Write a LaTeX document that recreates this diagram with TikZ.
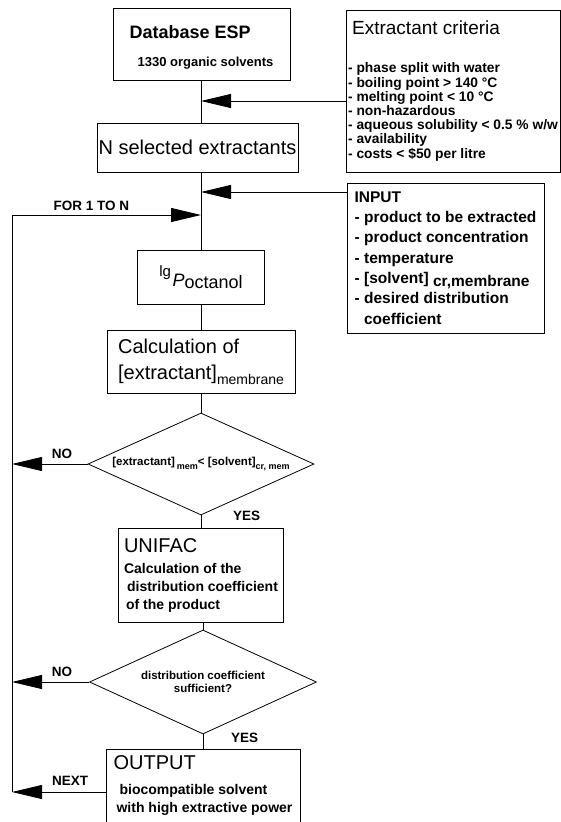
\documentclass[tikz,border=0pt]{standalone}
\usepackage{fontspec}
\setmainfont{Liberation Sans}
\usetikzlibrary{arrows.meta}
\usetikzlibrary{shapes.geometric}

\newcommand{\bigsize}{\fontsize{20}{26}\selectfont}
\newcommand{\headsize}{\fontsize{19}{22}\selectfont}
\newcommand{\listsize}{\bfseries\fontsize{14}{18}\selectfont}
\newcommand{\critsize}{\bfseries\fontsize{13.8}{14.2}\selectfont}
\newcommand{\inputsize}{\bfseries\fontsize{15.5}{20.3}\selectfont}
\newcommand{\smallsize}{\bfseries\fontsize{11.5}{13}\selectfont}
\newcommand{\subsize}{\fontsize{9}{9}\selectfont}
\newcommand{\lblsize}{\bfseries\fontsize{13.5}{15}\selectfont}

\tikzset{
  box/.style={draw, line width=0.8pt, inner sep=0pt},
  decision/.style={draw, diamond, line width=0.8pt, aspect=2.2, inner sep=0pt},
  flow/.style={line width=0.8pt},
  arr/.style={flow, -{Triangle[length=30pt,width=14pt]}},
  lbl/.style={font=\lblsize, inner sep=1pt},
}

\begin{document}
\begin{tikzpicture}[x=1pt,y=-1pt]
\useasboundingbox (0,0) rectangle (561,822);

% boxes of the main column
\node[box, minimum width=177pt, minimum height=72pt, align=left] (db) at (201.5,44)
  {\rule{0pt}{19.5pt}{\bfseries\fontsize{18}{22}\selectfont Database ESP}\\[16pt]
   \hspace*{8pt}{\bfseries\fontsize{13}{15}\selectfont 1330 organic solvents}};
\node[box, minimum width=201pt, minimum height=49pt, font=\bigsize] (nsel) at (197.5,147.5)
  {N selected extractants};
\node[box, minimum width=127pt, minimum height=54pt] (lgp) at (201,277)
  {\raisebox{10pt}{\fontsize{15}{15}\selectfont lg}\,{\fontsize{18}{18}\selectfont\itshape P}\raisebox{-2pt}{\fontsize{18}{18}\selectfont octanol}};
\node[box, minimum width=188pt, minimum height=63pt, align=left, font=\bigsize] (calc) at (201,361.5)
  {Calculation of\\
   {[}extractant{]}\raisebox{-5pt}{\fontsize{14}{14}\selectfont membrane}};
\node[decision, minimum width=226pt, minimum height=102pt, font=\smallsize] (dia1) at (201,464)
  {{[}extractant{]}\,\raisebox{-4pt}{\subsize mem}< {[}solvent{]}\raisebox{-4pt}{\subsize cr, mem}};
\node[box, minimum width=165pt, minimum height=94pt, align=left, font=\listsize] (unifac) at (201,575)
  {{\mdseries\fontsize{20}{24}\selectfont UNIFAC}\\[3pt]
   Calculation of the\\
   \hspace*{3pt}distribution coefficient\\
   \hspace*{2pt}of the product};
\node[decision, minimum width=227pt, minimum height=104pt, align=center, font=\smallsize] (dia2) at (203,682)
  {distribution coefficient\\ sufficient?};
\node[box, minimum width=194pt, anchor=north, inner sep=6pt, text depth=12pt, align=left, font=\listsize] (out) at (203,749)
  {{\mdseries\fontsize{20}{24}\selectfont OUTPUT}\\[7pt]
   \hspace*{6pt}biocompatible solvent\\
   \hspace*{3pt}with high extractive power};

% side boxes
\node[box, minimum width=214pt, minimum height=162pt, align=left, font=\critsize] (crit) at (453,91)
  {\hspace*{4pt}{\headsize\mdseries Extractant criteria}\\[24pt]
   - phase split with water\\
   - boiling point > 140 °C\\
   - melting point < 10 °C\\
   - non-hazardous\\
   - aqueous solubility < 0.5 \% w/w\\
   - availability\\
   - costs < \$50 per litre};
\node[box, minimum width=197pt, minimum height=150pt, align=left, font=\inputsize] (input) at (445.5,258)
  {INPUT\\
   - product to be extracted\\
   - product concentration\\
   - temperature\\
   - {[}solvent{]} \raisebox{-3pt}{cr,membrane}\\
   - desired distribution\\
   \hphantom{- }coefficient};

% junctions and loop
\coordinate (critin) at (201,101);
\coordinate (inputin) at (201,192);
\coordinate (loopin) at (201,215);
\coordinate (loopx) at (12,215);
\coordinate (loopend) at (12,792);

% main column
\draw[flow] (db.south) -- (db.south |- nsel.north);
\draw[flow] (lgp.north |- nsel.south) -- (lgp.north);
\draw[flow] (lgp.south) -- (calc.north);
\draw[flow] (calc.south) -- (dia1.north);
\draw[flow] (dia1.south) -- (unifac.north);
\draw[flow] (dia2.north |- unifac.south) -- (dia2.north);
\draw[flow] (dia2.south) -- (out.north);

% inputs
\draw[arr] (crit.west |- critin) -- (critin);
\draw[arr] (input.west |- inputin) -- (inputin);
\draw[arr] (loopx) -- node[lbl, pos=0.42, above=3pt] (for) {FOR 1 TO N} (loopin);

% back to the loop
\draw[flow] (loopx) -- (loopend);
\draw[arr] (dia1.west) -- node[lbl, pos=0.34, above=4pt] (no1) {NO} (dia1.west -| loopx);
\draw[arr] (dia2.west) -- node[lbl, pos=0.35, above=4pt] (no2) {NO} (dia2.west -| loopx);
\draw[arr] (out.west |- loopend) -- node[lbl, pos=0.38, above=5pt] (next) {NEXT} (loopend);
\node[lbl, anchor=west] (yes1) at ([xshift=31pt]dia1.south) {YES};
\node[lbl, anchor=west] (yes2) at ([xshift=27pt,yshift=-3pt]dia2.south) {YES};
\end{tikzpicture}
\end{document}
